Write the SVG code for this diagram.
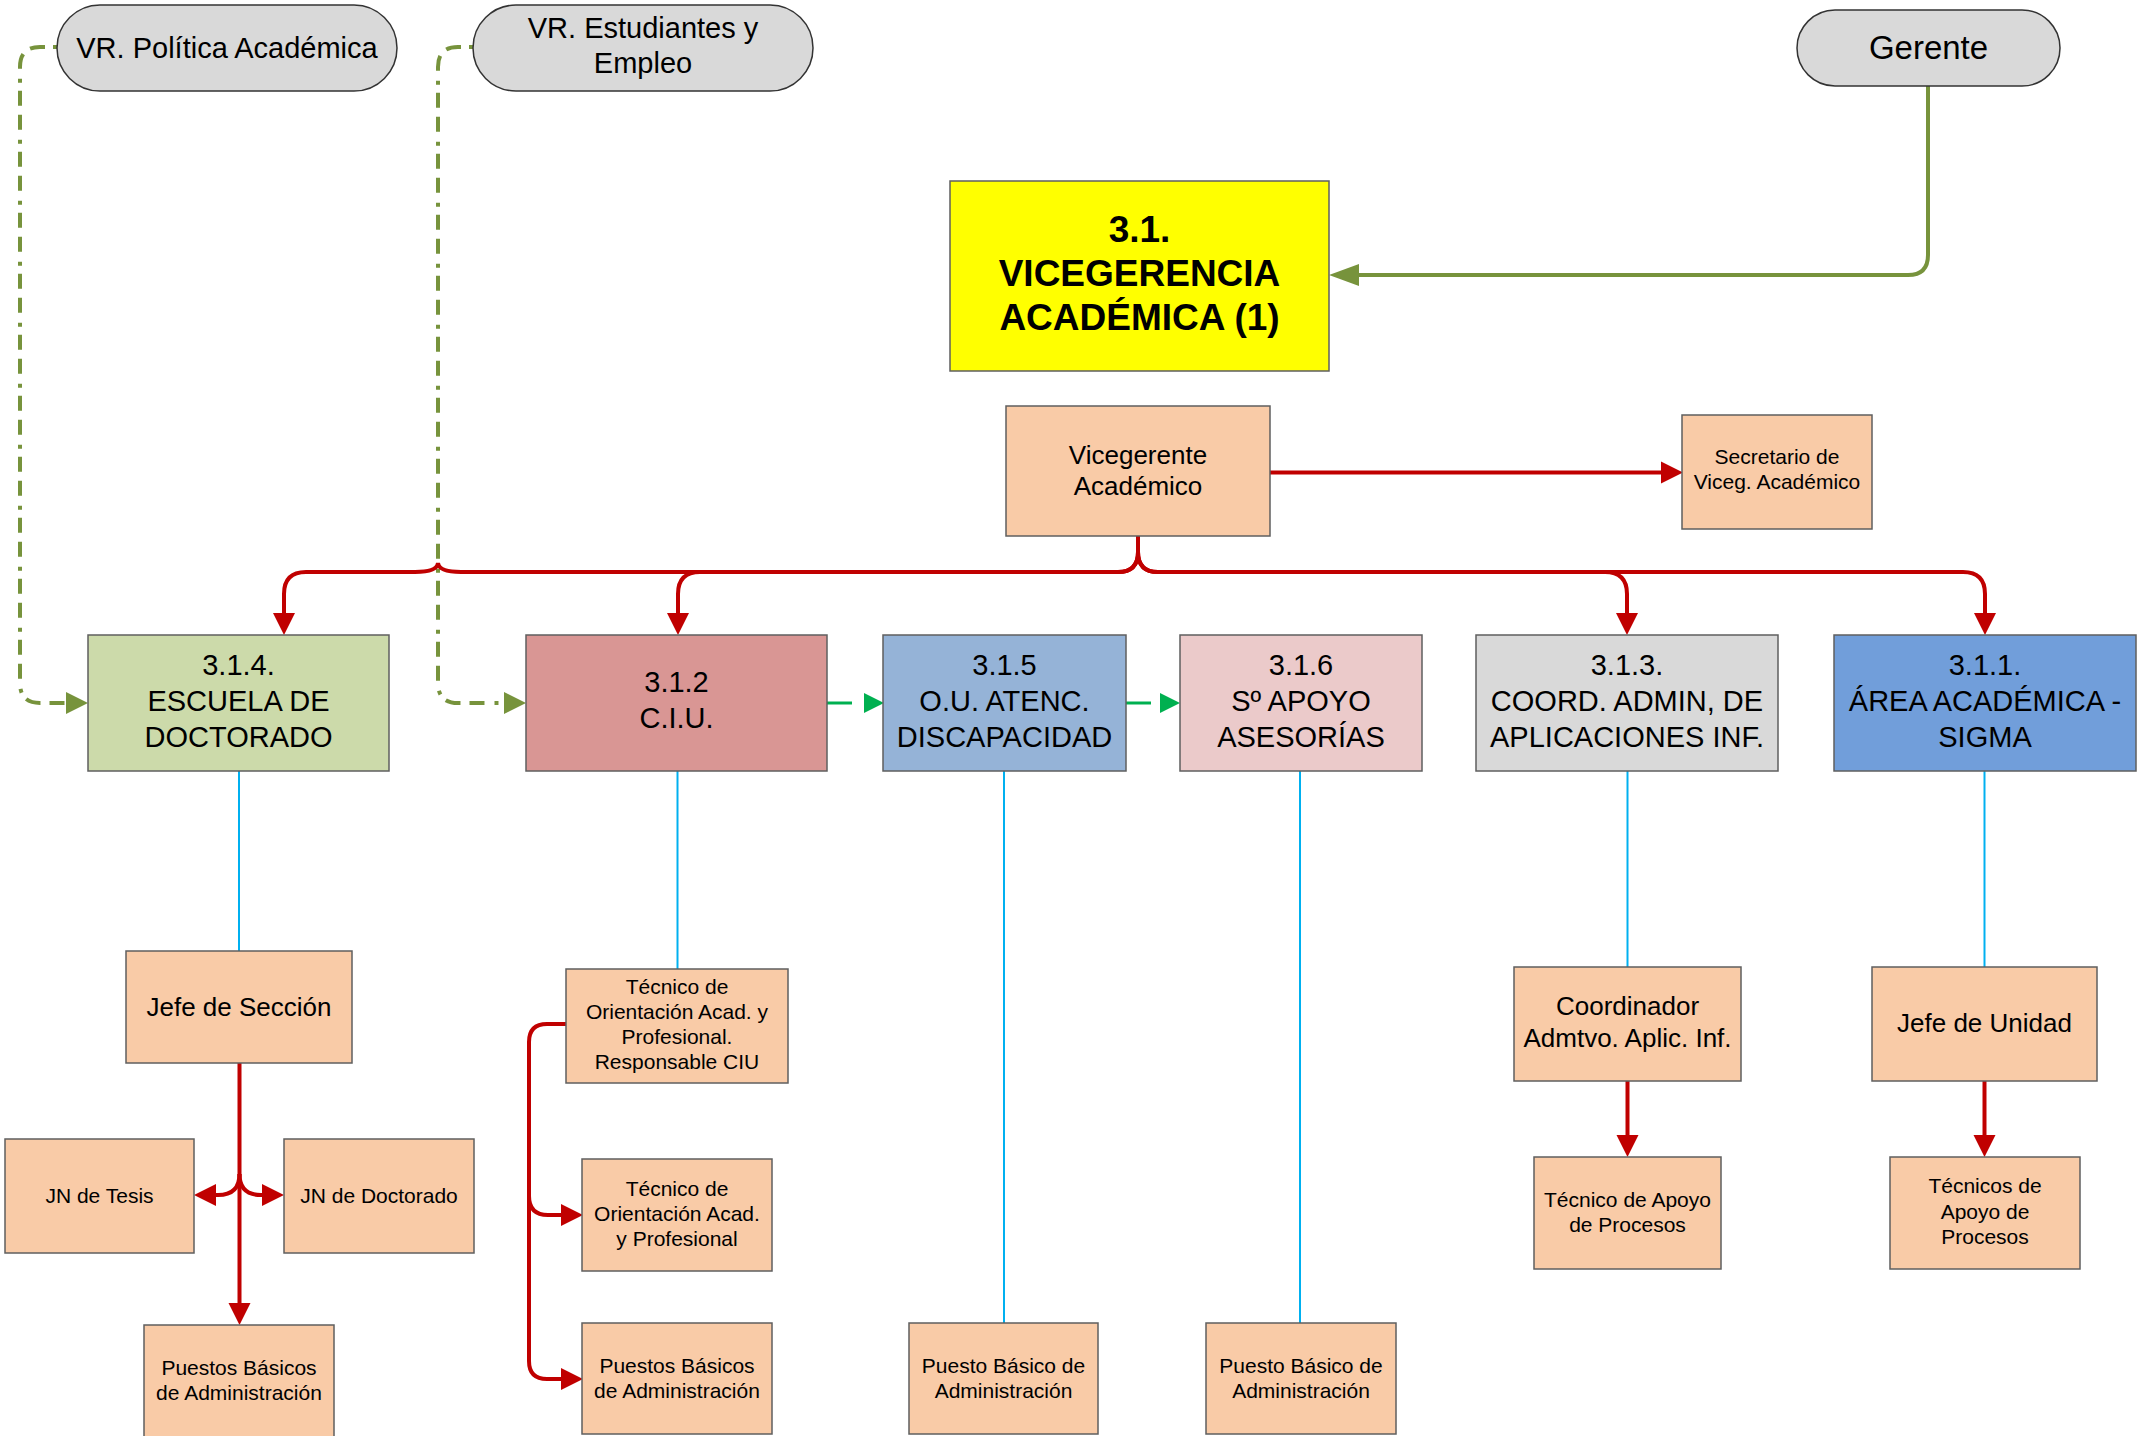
<svg xmlns="http://www.w3.org/2000/svg" width="2144" height="1436" viewBox="0 0 2144 1436">
<style>
text{font-family:"Liberation Sans",Arial,sans-serif;fill:#000;text-anchor:middle}
.pill{fill:#D9D9D9;stroke:#333;stroke-width:1.5}
.box{stroke:#5F5F5F;stroke-width:1.5}
.peach{fill:#F9CBA7}
.t29{font-size:29px}
.t26{font-size:26px}
.t21{font-size:21px}
.red{fill:none;stroke:#C00000;stroke-width:4}
.blue{fill:none;stroke:#00B0F0;stroke-width:2}
.olive{fill:none;stroke:#77933C;stroke-width:4}
.olivedash{fill:none;stroke:#77933C;stroke-width:4;stroke-dasharray:4 8 15 9 15 10}
.gdash{fill:none;stroke:#00B050;stroke-width:3;stroke-dasharray:25 12}
</style>
<defs>
<marker id="ar" markerUnits="userSpaceOnUse" markerWidth="22" markerHeight="22" refX="0" refY="11" orient="auto" overflow="visible"><path d="M0,0 L22,11 L0,22 Z" fill="#C00000"/></marker>
<marker id="ag" markerUnits="userSpaceOnUse" markerWidth="30" markerHeight="24" refX="0" refY="11" orient="auto" overflow="visible"><path d="M0,0 L30,11 L0,22 Z" fill="#77933C"/></marker>
<marker id="ao" markerUnits="userSpaceOnUse" markerWidth="22" markerHeight="22" refX="0" refY="11" orient="auto" overflow="visible"><path d="M0,0 L22,11 L0,22 Z" fill="#77933C"/></marker>
<marker id="ae" markerUnits="userSpaceOnUse" markerWidth="20" markerHeight="20" refX="0" refY="10" orient="auto" overflow="visible"><path d="M0,0 L20,10 L0,20 Z" fill="#00B050"/></marker>
</defs>

<g id="connectors">
<!-- Gerente to Vicegerencia -->
<path class="olive" d="M1928,86 V255 Q1928,275 1908,275 H1359" marker-end="url(#ag)"/>
<!-- VR dash-dot -->
<path class="olivedash" d="M57,47 H40 Q20,47 20,67 V683 Q20,703 40,703 H66" marker-end="url(#ao)"/>
<path class="olivedash" d="M473,47 H458 Q438,47 438,67 V683 Q438,703 458,703 H504" marker-end="url(#ao)"/>
<!-- Vicegerente to Secretario -->
<path class="red" d="M1270,472.5 H1661" marker-end="url(#ar)"/>
<!-- Vicegerente to units -->
<path class="red" d="M1138,536 V552 Q1138,572 1118,572 H461 Q439,572 438,563 Q437,572 415,572 H306 Q284,572 284,594 V613" marker-end="url(#ar)"/>
<path class="red" d="M1138,536 V552 Q1138,572 1118,572 H700 Q678,572 678,594 V613" marker-end="url(#ar)"/>
<path class="red" d="M1138,536 V552 Q1138,572 1158,572 H1605 Q1627,572 1627,594 V613" marker-end="url(#ar)"/>
<path class="red" d="M1138,536 V552 Q1138,572 1158,572 H1963 Q1985,572 1985,594 V613" marker-end="url(#ar)"/>
<!-- green dashed between units -->
<path class="gdash" d="M827,703 H864" marker-end="url(#ae)"/>
<path class="gdash" d="M1126,703 H1160" marker-end="url(#ae)"/>
<!-- blue lines -->
<path class="blue" d="M239,771 V951"/>
<path class="blue" d="M677.5,771 V969"/>
<path class="blue" d="M1004,771 V1323"/>
<path class="blue" d="M1300,771 V1323"/>
<path class="blue" d="M1627.5,771 V967"/>
<path class="blue" d="M1984.5,771 V967"/>
<!-- Jefe de Seccion -->
<path class="red" d="M239.5,1063 V1303" marker-end="url(#ar)"/>
<path class="red" d="M239.5,1174 Q239.5,1195 218,1195 H216" marker-end="url(#ar)"/>
<path class="red" d="M239.5,1174 Q239.5,1195 261,1195 H262" marker-end="url(#ar)"/>
<!-- CIU bracket -->
<path class="red" d="M566,1024 H547 Q529,1024 529,1042 V1361 Q529,1379 547,1379 H561" marker-end="url(#ar)"/>
<path class="red" d="M529,1196 Q529,1215 548,1215 H561" marker-end="url(#ar)"/>
<!-- Coordinador / Jefe de Unidad -->
<path class="red" d="M1627.5,1081 V1135" marker-end="url(#ar)"/>
<path class="red" d="M1984.5,1081 V1135" marker-end="url(#ar)"/>
</g>

<g id="vr-politica">
<rect class="pill" x="57" y="5" width="340" height="86" rx="43" ry="43"/>
<text class="t29" x="227" y="58">VR. Política Académica</text>
</g>
<g id="vr-estudiantes">
<rect class="pill" x="473" y="5" width="340" height="86" rx="43" ry="43"/>
<text class="t29" x="643" y="38">VR. Estudiantes y</text>
<text class="t29" x="643" y="73">Empleo</text>
</g>
<g id="gerente">
<rect class="pill" x="1797" y="10" width="263" height="76" rx="38" ry="38"/>
<text x="1928.5" y="59" style="font-size:33px">Gerente</text>
</g>
<g id="vicegerencia">
<rect class="box" x="950" y="181" width="379" height="190" fill="#FFFF00"/>
<text x="1139.5" y="242" style="font-size:37px;font-weight:bold">3.1.</text>
<text x="1139.5" y="286" style="font-size:37px;font-weight:bold">VICEGERENCIA</text>
<text x="1139.5" y="330" style="font-size:37px;font-weight:bold">ACADÉMICA (1)</text>
</g>
<g id="vicegerente">
<rect class="box peach" x="1006" y="406" width="264" height="130"/>
<text class="t26" x="1138" y="464">Vicegerente</text>
<text class="t26" x="1138" y="495">Académico</text>
</g>
<g id="secretario">
<rect class="box peach" x="1682" y="415" width="190" height="114"/>
<text class="t21" x="1777" y="464">Secretario de</text>
<text class="t21" x="1777" y="489">Viceg. Académico</text>
</g>

<g id="escuela">
<rect class="box" x="88" y="635" width="301" height="136" fill="#CCDAAA"/>
<text class="t29" x="238.5" y="675">3.1.4.</text>
<text class="t29" x="238.5" y="711">ESCUELA DE</text>
<text class="t29" x="238.5" y="747">DOCTORADO</text>
</g>
<g id="ciu">
<rect class="box" x="526" y="635" width="301" height="136" fill="#D99694"/>
<text class="t29" x="676.5" y="692">3.1.2</text>
<text class="t29" x="676.5" y="728">C.I.U.</text>
</g>
<g id="ou-atenc">
<rect class="box" x="883" y="635" width="243" height="136" fill="#95B3D7"/>
<text class="t29" x="1004.5" y="675">3.1.5</text>
<text class="t29" x="1004.5" y="711">O.U. ATENC.</text>
<text class="t29" x="1004.5" y="747">DISCAPACIDAD</text>
</g>
<g id="apoyo-asesorias">
<rect class="box" x="1180" y="635" width="242" height="136" fill="#EBCACA"/>
<text class="t29" x="1301" y="675">3.1.6</text>
<text class="t29" x="1301" y="711">Sº APOYO</text>
<text class="t29" x="1301" y="747">ASESORÍAS</text>
</g>
<g id="coord-admin">
<rect class="box" x="1476" y="635" width="302" height="136" fill="#D9D9D9"/>
<text class="t29" x="1627" y="675">3.1.3.</text>
<text class="t29" x="1627" y="711">COORD. ADMIN, DE</text>
<text class="t29" x="1627" y="747">APLICACIONES INF.</text>
</g>
<g id="area-academica">
<rect class="box" x="1834" y="635" width="302" height="136" fill="#719EDA"/>
<text class="t29" x="1985" y="675">3.1.1.</text>
<text class="t29" x="1985" y="711">ÁREA ACADÉMICA -</text>
<text class="t29" x="1985" y="747">SIGMA</text>
</g>

<g id="jefe-seccion">
<rect class="box peach" x="126" y="951" width="226" height="112"/>
<text class="t26" x="239" y="1016">Jefe de Sección</text>
</g>
<g id="jn-tesis">
<rect class="box peach" x="5" y="1139" width="189" height="114"/>
<text class="t21" x="99.5" y="1203">JN de Tesis</text>
</g>
<g id="jn-doctorado">
<rect class="box peach" x="284" y="1139" width="190" height="114"/>
<text class="t21" x="379" y="1203">JN de Doctorado</text>
</g>
<g id="puestos-escuela">
<rect class="box peach" x="144" y="1325" width="190" height="125"/>
<text class="t21" x="239" y="1375">Puestos Básicos</text>
<text class="t21" x="239" y="1400">de Administración</text>
</g>
<g id="tecnico-responsable">
<rect class="box peach" x="566" y="969" width="222" height="114"/>
<text class="t21" x="677" y="994">Técnico de</text>
<text class="t21" x="677" y="1019">Orientación Acad. y</text>
<text class="t21" x="677" y="1044">Profesional.</text>
<text class="t21" x="677" y="1069">Responsable CIU</text>
</g>
<g id="tecnico-orientacion">
<rect class="box peach" x="582" y="1159" width="190" height="112"/>
<text class="t21" x="677" y="1196">Técnico de</text>
<text class="t21" x="677" y="1221">Orientación Acad.</text>
<text class="t21" x="677" y="1246">y Profesional</text>
</g>
<g id="puestos-ciu">
<rect class="box peach" x="582" y="1323" width="190" height="111"/>
<text class="t21" x="677" y="1373">Puestos Básicos</text>
<text class="t21" x="677" y="1398">de Administración</text>
</g>
<g id="puesto-ou">
<rect class="box peach" x="909" y="1323" width="189" height="111"/>
<text class="t21" x="1003.5" y="1373">Puesto Básico de</text>
<text class="t21" x="1003.5" y="1398">Administración</text>
</g>
<g id="puesto-apoyo">
<rect class="box peach" x="1206" y="1323" width="190" height="111"/>
<text class="t21" x="1301" y="1373">Puesto Básico de</text>
<text class="t21" x="1301" y="1398">Administración</text>
</g>
<g id="coordinador">
<rect class="box peach" x="1514" y="967" width="227" height="114"/>
<text class="t26" x="1627.5" y="1015">Coordinador</text>
<text class="t26" x="1627.5" y="1047">Admtvo. Aplic. Inf.</text>
</g>
<g id="tecnico-apoyo">
<rect class="box peach" x="1534" y="1157" width="187" height="112"/>
<text class="t21" x="1627.5" y="1207">Técnico de Apoyo</text>
<text class="t21" x="1627.5" y="1232">de Procesos</text>
</g>
<g id="jefe-unidad">
<rect class="box peach" x="1872" y="967" width="225" height="114"/>
<text class="t26" x="1984.5" y="1032">Jefe de Unidad</text>
</g>
<g id="tecnicos-apoyo">
<rect class="box peach" x="1890" y="1157" width="190" height="112"/>
<text class="t21" x="1985" y="1193">Técnicos de</text>
<text class="t21" x="1985" y="1219">Apoyo de</text>
<text class="t21" x="1985" y="1244">Procesos</text>
</g>
</svg>
